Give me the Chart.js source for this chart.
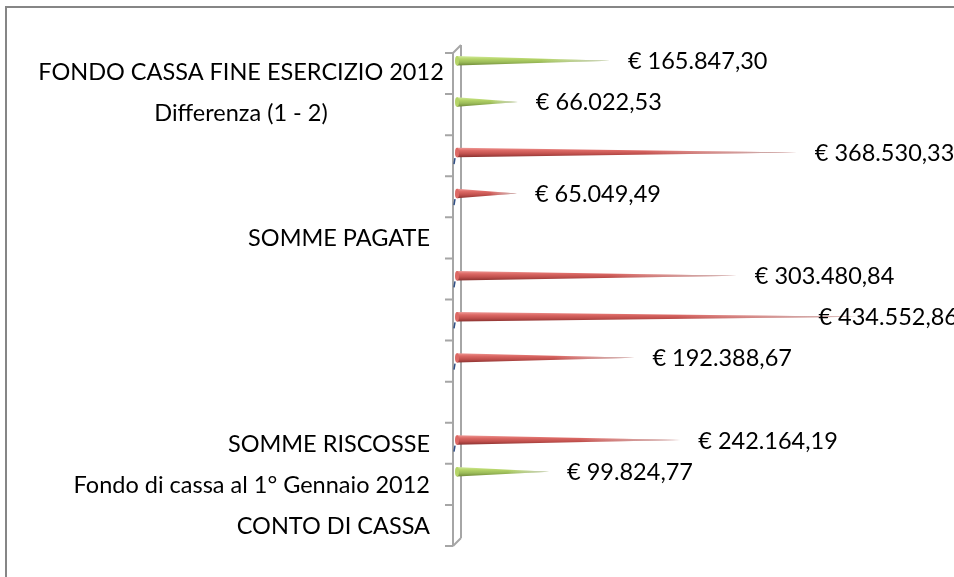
<!DOCTYPE html>
<html>
<head>
<meta charset="utf-8">
<script src="https://cdn.jsdelivr.net/npm/chart.js@4"></script>
<style>
  html, body { margin: 0; padding: 0; background: #ffffff; }
  #wrap { width: 954px; height: 577px; position: relative; }
</style>
</head>
<body>
<div id="wrap"><canvas id="c" width="954" height="577"></canvas></div>
<script>
// ---- data (top to bottom) ----
const categories = [
  'FONDO CASSA FINE ESERCIZIO 2012',
  'Differenza (1 - 2)',
  '',
  '',
  'SOMME PAGATE',
  '',
  '',
  '',
  '',
  'SOMME RISCOSSE',
  'Fondo di cassa al 1° Gennaio 2012',
  'CONTO DI CASSA'
];
const greenValues = [165847.30, 66022.53, null, null, null, null, null, null, null, null, 99824.77, null];
const redValues   = [null, null, 368530.33, 65049.49, null, 303480.84, 434552.86, 192388.67, null, 242164.19, null, null];
const centeredLabels = ['FONDO CASSA FINE ESERCIZIO 2012', 'Differenza (1 - 2)'];
const axisMax = 500000;

const FONT = '23.5px Lato, "Open Sans", sans-serif';

function fmtEuro(v) {
  const parts = v.toFixed(2).split('.');
  return '€ ' + parts[0].replace(/\B(?=(\d{3})+(?!\d))/g, '.') + ',' + parts[1];
}

const palettes = {
  green: { stops: ['#d3ec9e', '#b5d468', '#9bbb59', '#6f8a38'] },
  red:   { stops: ['#ee9a97', '#dc6965', '#c0504d', '#8a3230'] }
};

const DEPTH = 8;

const decorPlugin = {
  id: 'decor',
  beforeDraw(chart) {
    const ctx = chart.ctx;
    ctx.save();
    ctx.strokeStyle = '#868686';
    ctx.lineWidth = 2;
    ctx.beginPath();
    ctx.moveTo(6, chart.height + 5);
    ctx.lineTo(6, 7);
    ctx.lineTo(chart.width + 5, 7);
    ctx.stroke();
    ctx.restore();
  },
  beforeDatasetsDraw(chart) {
    const ctx = chart.ctx;
    const a = chart.chartArea;
    const ys = chart.scales.y;
    const n = categories.length;
    const band = (a.bottom - a.top) / n;
    const backX = a.left + 4;
    const frontX = backX - DEPTH;
    ctx.save();
    ctx.strokeStyle = '#a6a6a6';
    ctx.lineWidth = 2;
    ctx.beginPath();
    ctx.moveTo(backX, a.top);
    ctx.lineTo(backX, a.bottom);
    ctx.moveTo(frontX, a.top + DEPTH);
    ctx.lineTo(frontX, a.bottom + DEPTH);
    ctx.moveTo(frontX, a.top + DEPTH);
    ctx.lineTo(backX, a.top);
    ctx.moveTo(frontX, a.bottom + DEPTH);
    ctx.lineTo(backX, a.bottom);
    for (let i = 0; i <= n; i++) {
      const ty = ys.getPixelForValue(0) - band / 2 + band * i + DEPTH;
      ctx.moveTo(frontX - 8, ty);
      ctx.lineTo(frontX, ty);
    }
    ctx.stroke();

    // category labels
    ctx.fillStyle = '#000000';
    ctx.font = FONT;
    ctx.textBaseline = 'middle';
    categories.forEach((lab, i) => {
      if (!lab) return;
      let y = ys.getPixelForValue(i) + 9;
      if (centeredLabels.includes(lab)) {
        ctx.textAlign = 'center';
        ctx.fillText(lab, a.left - 216, y - 2);
      } else {
        ctx.textAlign = 'right';
        ctx.fillText(lab, a.left - 27, y);
      }
    });
    ctx.restore();
  },
  afterDatasetsDraw(chart) {
    const ctx = chart.ctx;
    chart.data.datasets.forEach((ds, di) => {
      const meta = chart.getDatasetMeta(di);
      const pal = palettes[ds.coneColor];
      meta.data.forEach((el, i) => {
        if (ds.data[i] == null) return;
        const p = el.getProps(['x', 'y', 'base', 'height'], true);
        const h = p.height;
        const top = p.y - h / 2, bot = p.y + h / 2;
        ctx.save();
        const g = ctx.createLinearGradient(0, top, 0, bot);
        g.addColorStop(0, pal.stops[0]);
        g.addColorStop(0.3, pal.stops[1]);
        g.addColorStop(0.65, pal.stops[2]);
        g.addColorStop(1, pal.stops[3]);
        ctx.beginPath();
        ctx.moveTo(p.base, top);
        ctx.lineTo(p.x, p.y);
        ctx.lineTo(p.base, bot);
        ctx.closePath();
        ctx.fillStyle = g;
        ctx.fill();
        const f = ctx.createLinearGradient(p.base, 0, p.x, 0);
        f.addColorStop(0, 'rgba(255,255,255,0)');
        f.addColorStop(0.55, 'rgba(255,255,255,0)');
        f.addColorStop(1, 'rgba(190,190,190,0.85)');
        ctx.fillStyle = f;
        ctx.fill();
        ctx.beginPath();
        ctx.ellipse(p.base, p.y, 2, h / 2, 0, 0, Math.PI * 2);
        ctx.fillStyle = pal.stops[1];
        ctx.fill();
        if (ds.coneColor === 'red') {
          ctx.strokeStyle = '#2f4f86';
          ctx.lineWidth = 1.5;
          ctx.beginPath();
          ctx.moveTo(p.base - 2, bot + 1);
          ctx.lineTo(p.base - 3, bot + 7);
          ctx.stroke();
        }
        ctx.restore();

        ctx.save();
        ctx.font = FONT;
        ctx.fillStyle = '#000000';
        ctx.textBaseline = 'middle';
        ctx.textAlign = 'left';
        const txt = fmtEuro(ds.data[i]);
        const w = ctx.measureText(txt).width;
        let lx = p.x + 18;
        if (lx + w > chart.width + 4) lx = chart.width + 4 - w;
        ctx.fillText(txt, lx, p.y + 1);
        ctx.restore();
      });
    });
  }
};

new Chart(document.getElementById('c'), {
  type: 'bar',
  data: {
    labels: categories,
    datasets: [
      { label: 'verde', data: greenValues, coneColor: 'green',
        backgroundColor: 'rgba(0,0,0,0)', borderWidth: 0,
        categoryPercentage: 0.46, barPercentage: 1 },
      { label: 'rosso', data: redValues, coneColor: 'red',
        backgroundColor: 'rgba(0,0,0,0)', borderWidth: 0,
        categoryPercentage: 0.46, barPercentage: 1 }
    ]
  },
  options: {
    indexAxis: 'y',
    responsive: false,
    animation: false,
    devicePixelRatio: 1,
    layout: { padding: { left: 457, right: 36, top: 45, bottom: 39 } },
    plugins: { legend: { display: false }, tooltip: { enabled: false } },
    scales: {
      x: { display: false, min: 0, max: axisMax },
      y: { display: false }
    }
  },
  plugins: [decorPlugin]
});
</script>
</body>
</html>
